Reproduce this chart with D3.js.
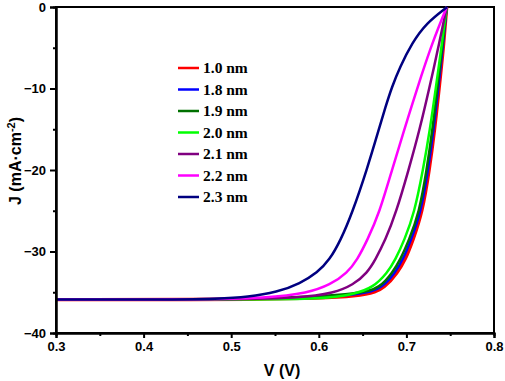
<!DOCTYPE html>
<html><head><meta charset="utf-8">
<script src="https://cdn.jsdelivr.net/npm/d3@7"></script>
<style>body{margin:0;background:#fff}svg{display:block}</style>
</head><body>
<svg id="c" width="505" height="381"></svg>
<script>
const seriesNames = ["1.0 nm","1.8 nm","1.9 nm","2.0 nm","2.1 nm","2.2 nm","2.3 nm"];
const seriesColors = ["#ff0000","#0000ff","#007000","#00ff00","#800080","#ff00ff","#000080"];
const xTicks = [0.3,0.4,0.5,0.6,0.7,0.8];
const yTicks = [0,-10,-20,-30,-40];

const V_10 = [0.30,0.54,0.6554,0.676,0.6897,0.6989,0.7075,0.7180,0.7262,0.7322,0.7375,0.7420,0.746];
const J_10 = [-35.9,-35.9,-35.6,-34.4,-32.6,-31.0,-28.6,-25.3,-20.0,-15.1,-9.8,-5.3,0];
const V_18 = [0.30,0.52,0.651,0.673,0.687,0.696,0.7052,0.7163,0.7248,0.7310,0.7365,0.7412,0.746];
const J_18 = [-35.9,-35.9,-35.45,-34.4,-32.6,-31.0,-28.6,-25.3,-20.0,-15.1,-9.8,-5.3,0];
const V_19 = [0.30,0.52,0.6474,0.6703,0.684,0.6931,0.7029,0.7145,0.7232,0.7297,0.7355,0.7405,0.746];
const J_19 = [-35.9,-35.9,-35.3,-34.4,-32.6,-31.0,-28.6,-25.3,-20.0,-15.1,-9.8,-5.3,0];
const V_20 = [0.30,0.50,0.6017,0.6394,0.6623,0.6783,0.6874,0.6977,0.7090,0.7190,0.7268,0.7338,0.7395,0.746];
const J_20 = [-35.9,-35.9,-35.85,-35.3,-34.4,-32.6,-31.0,-28.6,-25.3,-20.0,-15.1,-9.8,-5.3,0];
const V_21 = [0.30,0.48,0.5823,0.6166,0.6394,0.6554,0.6646,0.676,0.688,0.7025,0.7150,0.7265,0.7358,0.746];
const J_21 = [-35.9,-35.9,-35.7,-35.1,-34.1,-32.6,-31.0,-28.6,-25.3,-20.0,-15.1,-9.8,-5.3,0];
const V_22 = [0.30,0.45,0.5446,0.5869,0.6131,0.6326,0.644,0.6554,0.6690,0.6835,0.6975,0.7055,0.7165,0.7295,0.746];
const J_22 = [-35.9,-35.9,-35.7,-35.1,-34.1,-32.6,-31.0,-28.6,-25.3,-20.0,-15.1,-12.3,-8.6,-4.4,0];
const V_23 = [0.30,0.42,0.4874,0.5183,0.5526,0.5789,0.5983,0.6125,0.6250,0.6380,0.6548,0.6683,0.676,0.6835,0.6925,0.7065,0.7225,0.7465];
const J_23 = [-35.9,-35.9,-35.8,-35.6,-35.0,-33.9,-32.6,-31.0,-28.6,-25.3,-20.0,-15.1,-12.3,-9.8,-7.4,-4.4,-2.0,0];

const Vs = [V_10,V_18,V_19,V_20,V_21,V_22,V_23];
const Js = [J_10,J_18,J_19,J_20,J_21,J_22,J_23];

const svg = d3.select("#c");
const L=56, R=494, T=7, B=333;
const x = d3.scaleLinear().domain([0.3,0.8]).range([L,R]);
const y = d3.scaleLinear().domain([-40,0]).range([B,T]);

// box
svg.append("rect").attr("x",L).attr("y",T).attr("width",R-L).attr("height",B-T)
  .attr("fill","none").attr("stroke","#000").attr("stroke-width",2);

// curves
const line = d3.line().x(d=>x(d[0])).y(d=>y(d[1])).curve(d3.curveBasis);
svg.append("clipPath").attr("id","cp").append("rect")
  .attr("x",L).attr("y",T-2).attr("width",R-L).attr("height",B-T+2);
seriesNames.forEach((n,i)=>{
  const pts = Vs[i].map((v,k)=>[v,Js[i][k]]);
  svg.append("path").attr("d",line(pts)).attr("fill","none")
    .attr("stroke",seriesColors[i]).attr("stroke-width", i===0?3.4:2.5)
    .attr("stroke-linejoin","round").attr("clip-path","url(#cp)");
});

// axes
const fontAx = "'Liberation Sans', Arial, sans-serif";
const xAx = svg.append("g").attr("transform",`translate(0,${B})`)
  .call(d3.axisBottom(x).tickValues(xTicks).tickFormat(d3.format(".1f")).tickSize(5).tickPadding(4));
const xMin = svg.append("g").attr("transform",`translate(0,${B})`)
  .call(d3.axisBottom(x).tickValues([0.35,0.45,0.55,0.65,0.75]).tickFormat("").tickSize(3));
const yAx = svg.append("g").attr("transform",`translate(${L},0)`)
  .call(d3.axisLeft(y).tickValues(yTicks).tickFormat(d3.format("d")).tickSize(6).tickPadding(4));
const yMin = svg.append("g").attr("transform",`translate(${L},0)`)
  .call(d3.axisLeft(y).tickValues([-5,-15,-25,-35]).tickFormat("").tickSize(3));
[xAx,xMin,yAx,yMin].forEach(g=>{
  g.select(".domain").attr("stroke","#000").attr("stroke-width",2);
  g.selectAll(".tick line").attr("stroke","#000").attr("stroke-width",2);
  g.selectAll("text").attr("font-family",fontAx).attr("font-size",13)
   .attr("font-weight","bold").attr("fill","#000");
});

// axis titles
svg.append("text").attr("x",282).attr("y",376).attr("text-anchor","middle")
  .attr("font-family",fontAx).attr("font-size",16).attr("font-weight","bold").text("V (V)");
const yt = svg.append("text").attr("transform","translate(21,161) rotate(-90)")
  .attr("text-anchor","middle").attr("font-family",fontAx).attr("font-size",16).attr("font-weight","bold");
yt.append("tspan").text("J (mA·cm");
yt.append("tspan").attr("dy",-6).attr("font-size",11).text("-2");
yt.append("tspan").attr("dy",6).text(")");

// legend
const lg = svg.append("g");
seriesNames.forEach((n,i)=>{
  const yy = 68 + i*21.5;
  lg.append("line").attr("x1",178).attr("x2",199).attr("y1",yy).attr("y2",yy)
    .attr("stroke",seriesColors[i]).attr("stroke-width",2.5);
  lg.append("text").attr("x",203).attr("y",yy+5).attr("font-family","'Liberation Serif','Times New Roman',serif")
    .attr("font-size",15.5).attr("font-weight","bold").attr("fill","#000").text(n);
});
</script>
</body></html>
